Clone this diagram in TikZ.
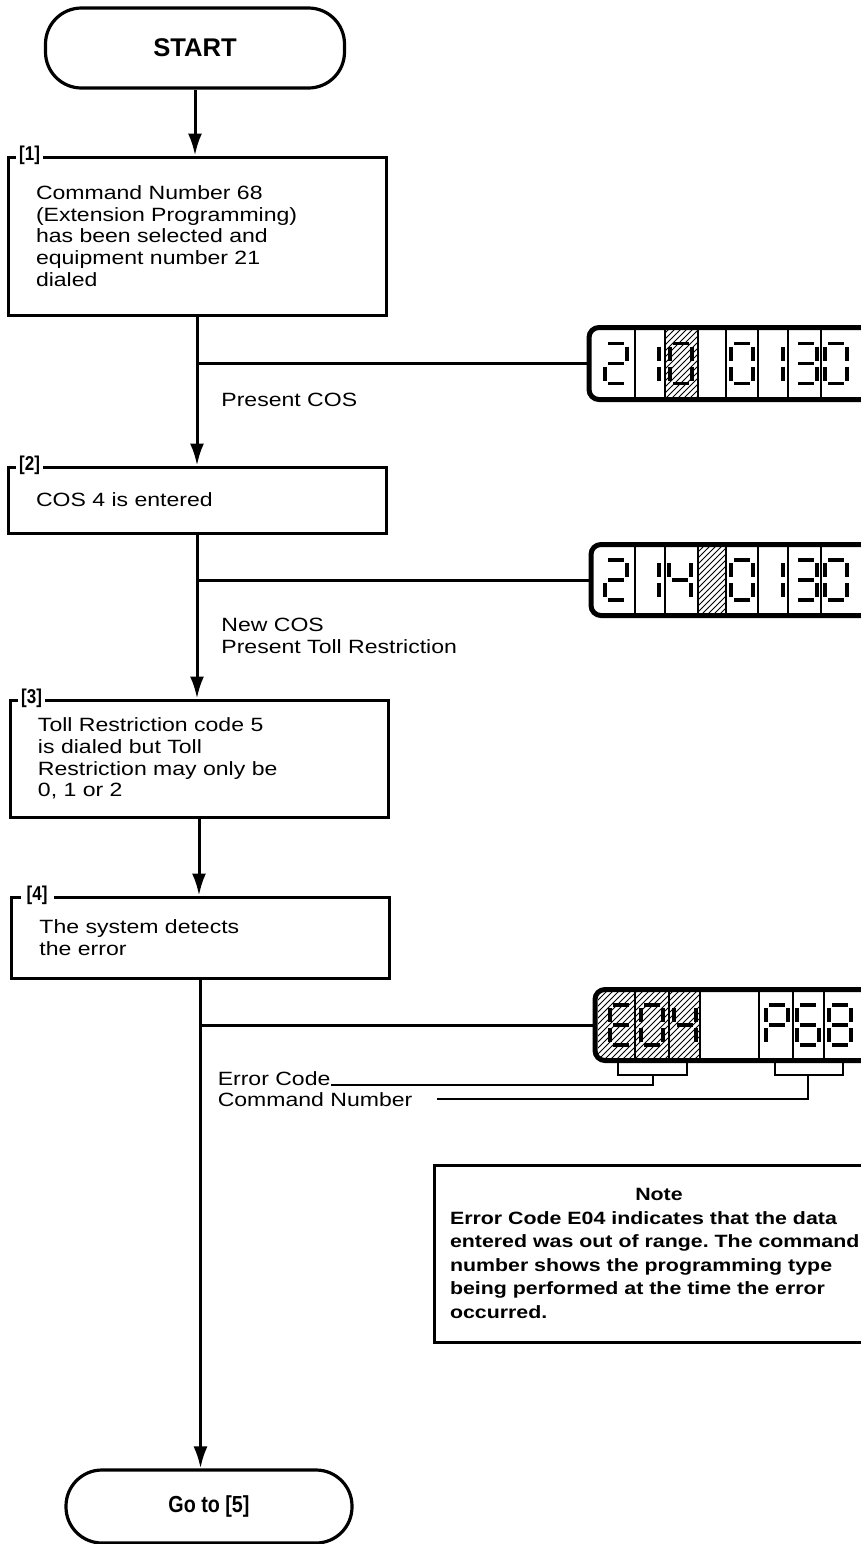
\documentclass[tikz,border=0pt]{standalone}
\usepackage{fontspec}
\setmainfont{Liberation Sans}[FakeStretch=1.2]
\newfontfamily\plainsf{Liberation Sans}
\newfontfamily\condsf{Liberation Sans}[FakeStretch=0.85]
\usetikzlibrary{arrows.meta,patterns,positioning,calc}
\tikzset{every picture/.style={line width=0.75pt}}
\frenchspacing
\newcommand{\bodyfont}{\fontsize{9.6}{10.8}\selectfont}
\tikzset{
  flow/.style={line width=1.5pt},
  arr/.style={flow, -{Latex[length=11pt,width=7pt]}},
  endbox/.style={draw, line width=1.6pt, rounded corners=18pt, font=\plainsf\bfseries\fontsize{12.8}{14}\selectfont},
  stepbox/.style={draw, line width=1.5pt, text width=161pt, inner xsep=14pt, align=left, font=\bodyfont},
  steplbl/.style={anchor=west, fill=white, inner xsep=1.5pt, inner ysep=0pt, font=\condsf\bfseries\fontsize{10}{11}\selectfont},
  notebox/.style={draw, line width=1.5pt, text width=209pt, inner xsep=8pt, align=left, minimum height=88.5pt, font=\bfseries\fontsize{8.9}{11.75}\selectfont},
  lcdbox/.style={draw, line width=2.5pt, rounded corners=5pt},
  segline/.style={line width=1.8pt},
  sepline/.style={line width=0.6pt},
  leader/.style={line width=0.8pt},
}
% seven segments of one digit (a top, b/c right, d bottom, e/f left, g middle)
\def\lcdsega{(-8,-20) -- (8,-20)}
\def\lcdsegb{(11,-17) -- (11,-3)}
\def\lcdsegc{(11,3) -- (11,17)}
\def\lcdsegd{(-8,20) -- (8,20)}
\def\lcdsege{(-11,3) -- (-11,17)}
\def\lcdsegf{(-11,-17) -- (-11,-3)}
\def\lcdsegg{(-8,0) -- (8,0)}
\newcommand{\lcd}[3]{%
  \begin{scope}[shift={(#1,#2)}]
    \foreach \s in {#3} {\edef\segcmd{\noexpand\draw[segline] \csname lcdseg\s\endcsname;}\segcmd}
  \end{scope}}

\begin{document}
\begin{tikzpicture}[x=0.5pt, y=-0.5pt]
    \fill[white] (0,0) rectangle (861,1544);
    \useasboundingbox (0,0) rectangle (861,1544);

    % flow boxes
    \node[endbox, minimum width=149.5pt, minimum height=40pt] (start) at (195,48) {START};
    \node[stepbox, minimum height=79pt] (step1) at (197,236) {Command Number 68\\(Extension Programming)\\has been selected and\\equipment number 21\\dialed};
    \node[stepbox, minimum height=33pt] (step2) at (197,500) {COS 4 is entered};
    \node[stepbox, minimum height=58.5pt] (step3) at (199,758.5) {Toll Restriction code 5\\is dialed but Toll\\Restriction may only be\\0, 1 or 2};
    \node[stepbox, minimum height=40.5pt] (step4) at (200.5,937.5) {The system detects\\the error};
    \node[endbox, minimum width=143pt, minimum height=36.5pt, font=\condsf\bfseries\fontsize{11.6}{13}\selectfont] (goto) at (209,1506.5) {Go to [5]};

    % step numbers in the top edge
    \node[steplbl] (lbl1) at ([xshift=4.5pt]step1.north west) {[1]};
    \node[steplbl] (lbl2) at ([xshift=4.5pt]step2.north west) {[2]};
    \node[steplbl] (lbl3) at ([xshift=4.5pt]step3.north west) {[3]};
    \node[steplbl, inner xsep=3pt] (lbl4) at ([xshift=5pt]step4.north west) {[4]};

    % main flow
    \draw[arr] (start) -- (start |- step1.north);
    \draw[arr] (step1) -- (step2);
    \draw[arr] (step2) -- (step2 |- step3.north);
    \draw[arr] (step3) -- (step3 |- step4.north);
    \draw[arr] (step4) -- (step4 |- goto.north);

    % trunk labels
    \node[anchor=west, font=\bodyfont] (curcos) at (214,400) {Present COS};
    \node[anchor=west, align=left, font=\bodyfont] (newcos) at (214,636) {New COS\\Present Toll Restriction};

    % displays
    \node[lcdbox, minimum width=146pt, minimum height=36pt] (disp1) at (735,363.5) {};
    \node[lcdbox, minimum width=146pt, minimum height=35.5pt] (disp2) at (737,580) {};
    \node[lcdbox, minimum width=146pt, minimum height=35.5pt] (disp3) at (741,1025) {};
    \draw[flow] (step1.south |- disp1.west) -- (disp1.west);
    \draw[flow] (step2.south |- disp2.west) -- (disp2.west);
    \draw[flow] (step4.south |- disp3.west) -- (disp3.west);

    % display 1: 2 1 [0] 0 1 3 0
    \fill[pattern=north east lines] (665,330) rectangle (698,397);
    \foreach \sx in {635,665,698,726,758,788,821} \draw[sepline] (\sx,330) -- (\sx,397);
    \lcd{616}{363.5}{a,b,g,e,d}
    \lcd{648}{363.5}{b,c}
    \lcd{681}{363.5}{a,b,c,d,e,f}
    \lcd{742}{363.5}{a,b,c,d,e,f}
    \lcd{772}{363.5}{b,c}
    \lcd{806}{363.5}{a,b,g,c,d}
    \lcd{836}{363.5}{a,b,c,d,e,f}

    % display 2: 2 1 4 [ ] 0 1 3 0
    \fill[pattern=north east lines] (698,547) rectangle (726,613);
    \foreach \sx in {635,665,698,726,758,788,821} \draw[sepline] (\sx,547) -- (\sx,613);
    \lcd{616}{580}{a,b,g,e,d}
    \lcd{648}{580}{b,c}
    \lcd{680}{580}{f,g,b,c}
    \lcd{742}{580}{a,b,c,d,e,f}
    \lcd{772}{580}{b,c}
    \lcd{806}{580}{a,b,g,c,d}
    \lcd{836}{580}{a,b,c,d,e,f}

    % display 3: [E 0 4] P 6 8
    \fill[pattern=north east lines] (598,992) rectangle (700,1058);
    \foreach \sx in {635,669,700,759,793,824} \draw[sepline] (\sx,992) -- (\sx,1058);
    \lcd{621}{1025}{a,f,g,e,d}
    \lcd{652}{1025}{a,b,c,d,e,f}
    \lcd{685}{1025}{f,g,b,c}
    \lcd{777}{1025}{a,b,f,g,e}
    \lcd{808}{1025}{a,f,g,e,d,c}
    \lcd{840}{1025}{a,b,c,d,e,f,g}

    % brackets under display 3
    \coordinate (ebr) at (653,1075);
    \coordinate (cbr) at (808,1075);
    \draw[leader] (618,1063) |- (687,1075) -- (687,1063);
    \draw[leader] (775,1063) |- (843,1075) -- (843,1063);
    \node[anchor=base west, font=\bodyfont, inner sep=0pt] (errlbl) at (217,1085) {Error Code};
    \node[anchor=base west, font=\bodyfont, inner sep=0pt] (cmdlbl) at (217,1106) {Command Number};
    \draw[leader] (errlbl.base east) -- (errlbl.base east -| ebr) -- (ebr);
    \draw[leader] ([xshift=12pt]cmdlbl.east) -- (cmdlbl.east -| cbr) -- (cbr);

    % note
    \node[notebox] (note) at (659,1253.5) {\makebox[\linewidth]{Note}\\Error Code E04 indicates that the data\\entered was out of range. The command\\number shows the programming type\\being performed at the time the error\\occurred.};
\end{tikzpicture}
\end{document}
